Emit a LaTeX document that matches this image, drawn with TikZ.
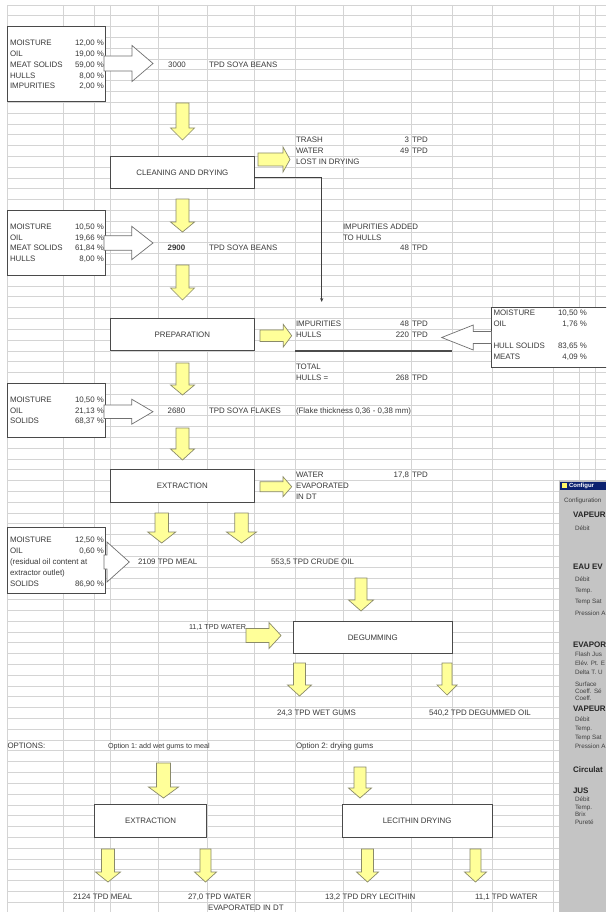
\documentclass[tikz,border=0pt]{standalone}
\usepackage{fontspec}
\setmainfont{Liberation Sans}
\usetikzlibrary{arrows.meta}
\definecolor{gridc}{HTML}{D4D4D4}
\definecolor{boxc}{HTML}{4A4A4A}
\definecolor{yfill}{HTML}{FFFF99}
\definecolor{ydraw}{HTML}{8A8A6A}
\definecolor{odraw}{HTML}{707070}
\definecolor{txt}{HTML}{3A3A3A}
\definecolor{panelc}{HTML}{C4C4C4}
\definecolor{barc}{HTML}{0C2270}
\newcommand{\rc}[1]{4.9+(#1+0.5)*10.81}
% horizontal block arrow: style, xstart, xbase, xtip, yc, shaft half, head half
\newcommand{\harrow}[7]{\path[#1] (#2,{#5-#6}) -- (#3,{#5-#6}) -- (#3,{#5-#7}) -- (#4,#5) -- (#3,{#5+#7}) -- (#3,{#5+#6}) -- (#2,{#5+#6}) -- cycle;}
% vertical block arrow: style, ystart, ybase, ytip, xc, shaft half, head half
\newcommand{\varrow}[7]{\path[#1] ({#5-#6},#2) -- ({#5-#6},#3) -- ({#5-#7},#3) -- (#5,#4) -- ({#5+#7},#3) -- ({#5+#6},#3) -- ({#5+#6},#2) -- cycle;}
% box node from corners: style, name, x1, y1, x2, y2, text
\newcommand{\rbox}[7]{\node[#1, minimum width={#5-#3}, minimum height={#6-#4}] (#2) at ({(#3+#5)/2},{(#4+#6)/2}) {#7};}
\begin{document}
\begin{tikzpicture}[x=1pt,y=-1pt,
  every node/.style={text=txt, font=\fontsize{7.9}{9}\selectfont},
  lbl/.style={anchor=west, inner sep=0, outer sep=0, text height=5.7pt, text depth=0pt},
  val/.style={lbl, anchor=east},
  ctr/.style={lbl, anchor=center},
  small/.style={font=\fontsize{7.2}{9}\selectfont},
  gridline/.style={draw=gridc, line width=0.6pt},
  databox/.style={draw=boxc, fill=white, line width=0.8pt, inner sep=0, outer sep=0},
  procbox/.style={databox},
  yarrow/.style={fill=yfill, draw=ydraw, line width=0.7pt},
  oarrow/.style={fill=white, draw=odraw, line width=0.7pt},
  conn/.style={draw=black!75, line width=0.7pt, -{Stealth[length=4pt,width=3.2pt]}},
  ptxt/.style={lbl, font=\fontsize{6.3}{7}\selectfont, text height=4.5pt, text=black!75},
  phead/.style={lbl, font=\bfseries\fontsize{8}{9}\selectfont, text height=5.8pt, text=black!85}]
\useasboundingbox (0,0) rectangle (606,912);
\clip (0,0) rectangle (606,912);
\fill[white] (0,0) rectangle (606,912);
% spreadsheet grid
\foreach \x in {7,63,94,110,158,207,254,295,343,411,452,492,553,579,595}
  \draw[gridline] (\x,4.9) -- (\x,912);
\foreach \k in {0,...,84}
  \draw[gridline] (7,{4.9+\k*10.81}) -- (606,{4.9+\k*10.81});

% data boxes
\rbox{databox}{b1}{7}{26.5}{105}{101}{}
\rbox{databox}{b2}{7}{210.3}{105}{275.2}{}
\rbox{databox}{b3}{7}{383.2}{105}{437.3}{}
\rbox{databox}{b4}{7}{527.7}{105}{593.3}{}
\rbox{databox}{rb}{491}{307.6}{608}{367.7}{}
% process boxes
\rbox{procbox}{clean}{110.7}{156.2}{254}{188.7}{CLEANING AND DRYING}
\rbox{procbox}{prep}{110.7}{318.4}{254}{350.8}{PREPARATION}
\rbox{procbox}{extr}{110.7}{469.7}{254}{502.2}{EXTRACTION}
\rbox{procbox}{degum}{293.3}{621.1}{452.3}{653.5}{DEGUMMING}
\rbox{procbox}{extrb}{94.3}{804.8}{206.7}{837.3}{EXTRACTION}
\rbox{procbox}{lec}{342}{804.8}{492.3}{837.3}{LECITHIN DRYING}

% open arrows
\harrow{oarrow}{104}{132}{153}{63.5}{7.5}{18}
\harrow{oarrow}{104}{131.7}{153}{243}{7.2}{16.7}
\harrow{oarrow}{104}{131.7}{153}{411.7}{6.7}{12.5}
\harrow{oarrow}{104}{107}{129.3}{562}{7}{20}
\harrow{oarrow}{491.5}{473.3}{441.7}{337.5}{6}{12.5}

% yellow arrows, to the right
\harrow{yarrow}{258}{283}{290}{159.5}{6.5}{12.5}
\harrow{yarrow}{260}{283.3}{291.7}{335.7}{5.8}{11.3}
\harrow{yarrow}{260}{283}{291.7}{486.7}{5}{10}
\harrow{yarrow}{246}{269}{281}{635.5}{7}{13}
% yellow arrows, downwards
\varrow{yarrow}{103}{128}{140}{182.5}{6.5}{12}
\varrow{yarrow}{199}{222}{232}{182.5}{6.5}{12}
\varrow{yarrow}{265}{288}{300}{182.5}{6.5}{12}
\varrow{yarrow}{363}{385}{395}{182.5}{6.5}{12}
\varrow{yarrow}{428}{449}{460}{182.5}{6.5}{12}
\varrow{yarrow}{513}{532}{543}{161.7}{6.7}{14}
\varrow{yarrow}{513}{532}{543}{241.5}{6.7}{15}
\varrow{yarrow}{578}{600}{611}{361}{6}{12.5}
\varrow{yarrow}{663}{685}{696}{299.5}{6}{12}
\varrow{yarrow}{663}{685}{695}{447}{5}{10}
\varrow{yarrow}{763}{787}{798}{163.5}{7}{15}
\varrow{yarrow}{767}{788}{798}{360}{6}{11.5}
\varrow{yarrow}{849}{872}{882}{108}{6.5}{12.5}
\varrow{yarrow}{849}{872}{882}{205.5}{5.5}{11}
\varrow{yarrow}{849}{872}{882}{367.5}{6}{11}
\varrow{yarrow}{849}{872}{882}{475.5}{5.5}{11}

% connector: impurities to hulls
\coordinate (imp) at (321.7,302);
\draw[conn] ([yshift=-4.5pt]clean.east) -| (imp);
% total line
\coordinate (tla) at (295,350.8);
\coordinate (tlb) at (452,350.8);
\draw[draw=black!70, line width=1.8pt] (tla) -- (tlb);

% box 1
\node[lbl] (a1) at (10,{\rc{3}}) {MOISTURE};
\node[lbl] (a2) at (10,{\rc{4}}) {OIL};
\node[lbl] (a3) at (10,{\rc{5}}) {MEAT SOLIDS};
\node[lbl] (a4) at (10,{\rc{6}}) {HULLS};
\node[lbl] (a5) at (10,{\rc{7}}) {IMPURITIES};
\node[val] (av1) at (104,{\rc{3}}) {12,00 \%};
\node[val] (av2) at (104,{\rc{4}}) {19,00 \%};
\node[val] (av3) at (104,{\rc{5}}) {59,00 \%};
\node[val] (av4) at (104,{\rc{6}}) {8,00 \%};
\node[val] (av5) at (104,{\rc{7}}) {2,00 \%};
\node[ctr] (q1) at (177,{\rc{5}}) {3000};
\node[lbl] (q1u) at (209,{\rc{5}}) {TPD SOYA BEANS};
% trash
\node[lbl] (tr1) at (296,{\rc{12}}) {TRASH};
\node[lbl] (tr2) at (296,{\rc{13}}) {WATER};
\node[lbl] (tr3) at (296,{\rc{14}}) {LOST IN DRYING};
\node[val] (trv1) at (409,{\rc{12}}) {3};
\node[val] (trv2) at (409,{\rc{13}}) {49};
\node[lbl] (tru1) at (412,{\rc{12}}) {TPD};
\node[lbl] (tru2) at (412,{\rc{13}}) {TPD};
% box 2
\node[lbl] (c1) at (10,{\rc{20}}) {MOISTURE};
\node[lbl] (c2) at (10,{\rc{21}}) {OIL};
\node[lbl] (c3) at (10,{\rc{22}}) {MEAT SOLIDS};
\node[lbl] (c4) at (10,{\rc{23}}) {HULLS};
\node[val] (cv1) at (104,{\rc{20}}) {10,50 \%};
\node[val] (cv2) at (104,{\rc{21}}) {19,66 \%};
\node[val] (cv3) at (104,{\rc{22}}) {61,84 \%};
\node[val] (cv4) at (104,{\rc{23}}) {8,00 \%};
\node[ctr, font=\bfseries\fontsize{7.9}{9}\selectfont] (q2) at (176.5,{\rc{22}}) {2900};
\node[lbl] (q2u) at (209,{\rc{22}}) {TPD SOYA BEANS};
\node[lbl] (ia1) at (343,{\rc{20}}) {IMPURITIES ADDED};
\node[lbl] (ia2) at (343,{\rc{21}}) {TO HULLS};
\node[val] (iav) at (409,{\rc{22}}) {48};
\node[lbl] (iau) at (412,{\rc{22}}) {TPD};
% hulls
\node[lbl] (h1) at (296,{\rc{29}}) {IMPURITIES};
\node[lbl] (h2) at (296,{\rc{30}}) {HULLS};
\node[val] (hv1) at (409,{\rc{29}}) {48};
\node[val] (hv2) at (409,{\rc{30}}) {220};
\node[lbl] (hu1) at (412,{\rc{29}}) {TPD};
\node[lbl] (hu2) at (412,{\rc{30}}) {TPD};
\node[lbl] (h3) at (296,{\rc{33}}) {TOTAL};
\node[lbl] (h4) at (296,{\rc{34}}) {HULLS =};
\node[val] (hv3) at (409,{\rc{34}}) {268};
\node[lbl] (hu3) at (412,{\rc{34}}) {TPD};
% right box
\node[lbl] (r1) at (493.5,{\rc{28}}) {MOISTURE};
\node[lbl] (r2) at (493.5,{\rc{29}}) {OIL};
\node[lbl] (r3) at (493.5,{\rc{31}}) {HULL SOLIDS};
\node[lbl] (r4) at (493.5,{\rc{32}}) {MEATS};
\node[val] (rv1) at (587,{\rc{28}}) {10,50 \%};
\node[val] (rv2) at (587,{\rc{29}}) {1,76 \%};
\node[val] (rv3) at (587,{\rc{31}}) {83,65 \%};
\node[val] (rv4) at (587,{\rc{32}}) {4,09 \%};
% box 3
\node[lbl] (d1) at (10,{\rc{36}}) {MOISTURE};
\node[lbl] (d2) at (10,{\rc{37}}) {OIL};
\node[lbl] (d3) at (10,{\rc{38}}) {SOLIDS};
\node[val] (dv1) at (104,{\rc{36}}) {10,50 \%};
\node[val] (dv2) at (104,{\rc{37}}) {21,13 \%};
\node[val] (dv3) at (104,{\rc{38}}) {68,37 \%};
\node[ctr] (q3) at (176.5,{\rc{37}}) {2680};
\node[lbl] (q3u) at (209,{\rc{37}}) {TPD SOYA FLAKES};
\node[lbl] (fl) at (296,{\rc{37}}) {(Flake thickness 0,36 - 0,38 mm)};
% water evaporated
\node[lbl] (w1) at (296,{\rc{43}}) {WATER};
\node[lbl] (w2) at (296,{\rc{44}}) {EVAPORATED};
\node[lbl] (w3) at (296,{\rc{45}}) {IN DT};
\node[val] (wv) at (409,{\rc{43}}) {17,8};
\node[lbl] (wu) at (412,{\rc{43}}) {TPD};
% box 4
\node[lbl] (e1) at (10,{\rc{49}}) {MOISTURE};
\node[lbl] (e2) at (10,{\rc{50}}) {OIL};
\node[lbl] (e3) at (10,{\rc{51}}) {(residual oil content at};
\node[lbl] (e4) at (10,{\rc{52}}) {extractor outlet)};
\node[lbl] (e5) at (10,{\rc{53}}) {SOLIDS};
\node[val] (ev1) at (104,{\rc{49}}) {12,50 \%};
\node[val] (ev2) at (104,{\rc{50}}) {0,60 \%};
\node[val] (ev5) at (104,{\rc{53}}) {86,90 \%};
\node[lbl] (meal) at (138,{\rc{51}}) {2109 TPD MEAL};
\node[lbl] (crude) at (271,{\rc{51}}) {553,5 TPD CRUDE OIL};
\node[lbl, small] (wat) at (189,{\rc{57}}) {11,1 TPD WATER};
\node[lbl] (wet) at (277,{\rc{65}}) {24,3 TPD WET GUMS};
\node[lbl] (dego) at (429,{\rc{65}}) {540,2 TPD DEGUMMED OIL};
\node[lbl] (opt) at (7.5,{\rc{68}}) {OPTIONS:};
\node[lbl, small] (opt1) at (108,{\rc{68}}) {Option 1:\ add wet gums to meal};
\node[lbl] (opt2) at (296,{\rc{68}}) {Option 2:\ drying gums};
\node[lbl] (o1) at (73,{\rc{82}}) {2124 TPD MEAL};
\node[lbl] (o2) at (188,{\rc{82}}) {27,0 TPD WATER};
\node[lbl] (o3) at (208,{\rc{83}}) {EVAPORATED IN DT};
\node[lbl] (o4) at (325,{\rc{82}}) {13,2 TPD DRY LECITHIN};
\node[lbl] (o5) at (475,{\rc{82}}) {11,1 TPD WATER};

% configuration panel
\fill[panelc] (559,479.5) rectangle (606,912);
\fill[barc] (559.5,481.5) rectangle (606,489.5);
\fill[yellow!60!white] (562,483) rectangle (566.5,488);
\node[lbl, text=white, font=\bfseries\fontsize{6}{7}\selectfont, text height=4.3pt] (ptitle) at (569,485.5) {Configur};
\node[ptxt] (p0) at (564,500) {Configuration};
\node[phead] (p1) at (573,514.5) {VAPEUR};
\node[ptxt] (p2) at (575,528) {D\'ebit};
\node[phead] (p3) at (573,566.5) {EAU EV};
\node[ptxt] (p4) at (575,579) {D\'ebit};
\node[ptxt] (p5) at (575,590) {Temp.};
\node[ptxt] (p6) at (575,601.5) {Temp Sat};
\node[ptxt] (p7) at (575,613) {Pression A};
\node[phead] (p8) at (573,645) {EVAPOR};
\node[ptxt] (p9) at (575,654.5) {Flash Jus};
\node[ptxt] (p10) at (575,663.5) {El\'ev. Pt. E};
\node[ptxt] (p11) at (575,672.5) {Delta T. U};
\node[ptxt] (p12) at (575,684) {Surface};
\node[ptxt] (p13) at (575,691.5) {Coeff. S\'e};
\node[ptxt] (p14) at (575,698.5) {Coeff.};
\node[phead] (p15) at (573,709) {VAPEUR};
\node[ptxt] (p16) at (575,719) {D\'ebit};
\node[ptxt] (p17) at (575,728) {Temp.};
\node[ptxt] (p18) at (575,737) {Temp Sat};
\node[ptxt] (p19) at (575,746) {Pression A};
\node[phead] (p20) at (573,770) {Circulat};
\node[phead] (p21) at (573,790.5) {JUS};
\node[ptxt] (p22) at (575,799) {D\'ebit};
\node[ptxt] (p23) at (575,807) {Temp.};
\node[ptxt] (p24) at (575,814.5) {Brix};
\node[ptxt] (p25) at (575,822.5) {Puret\'e};
\end{tikzpicture}
\end{document}
